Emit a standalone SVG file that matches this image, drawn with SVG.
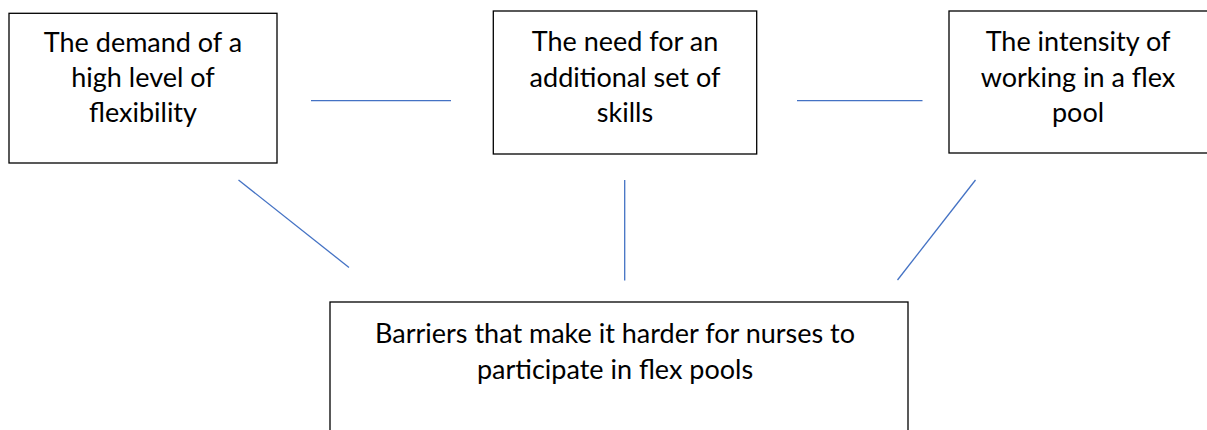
<svg xmlns="http://www.w3.org/2000/svg" width="1207" height="430" viewBox="0 0 1207 430">
  <style>
    .box { fill: #ffffff; stroke: #000000; stroke-width: 1.3; }
    .label { font-family: Lato, "Liberation Sans", sans-serif; font-size: 27px; fill: #000000; text-anchor: middle; }
    .link { stroke: #4472C4; stroke-width: 1.3; fill: none; }
  </style>
  <rect width="1207" height="430" fill="#ffffff"/>

  <g id="connectors">
    <line class="link" x1="311" y1="100.7" x2="451" y2="100.7"/>
    <line class="link" x1="797" y1="100.7" x2="922.5" y2="100.7"/>
    <line class="link" x1="238.5" y1="180" x2="349" y2="267.5"/>
    <line class="link" x1="624.7" y1="180" x2="624.7" y2="280.5"/>
    <line class="link" x1="975.5" y1="180" x2="897.5" y2="280"/>
  </g>

  <g id="node-flexibility">
    <rect class="box" x="9" y="13.3" width="268" height="149.7"/>
    <text class="label" x="143" y="52">The demand of a</text>
    <text class="label" x="143" y="87">high level of</text>
    <text class="label" x="143" y="122">flexibility</text>
  </g>

  <g id="node-skills">
    <rect class="box" x="493.3" y="11" width="263.4" height="143"/>
    <text class="label" x="625" y="51">The need for an</text>
    <text class="label" x="625" y="86.5">additional set of</text>
    <text class="label" x="625" y="121.5">skills</text>
  </g>

  <g id="node-intensity">
    <rect class="box" x="949" y="11" width="270" height="142"/>
    <text class="label" x="1078" y="51">The intensity of</text>
    <text class="label" x="1078" y="86.5">working in a flex</text>
    <text class="label" x="1078" y="121.5">pool</text>
  </g>

  <g id="node-barriers">
    <rect class="box" x="330" y="302" width="578" height="140"/>
    <text class="label" x="615" y="342.5">Barriers that make it harder for nurses to</text>
    <text class="label" x="615" y="379">participate in flex pools</text>
  </g>
</svg>
